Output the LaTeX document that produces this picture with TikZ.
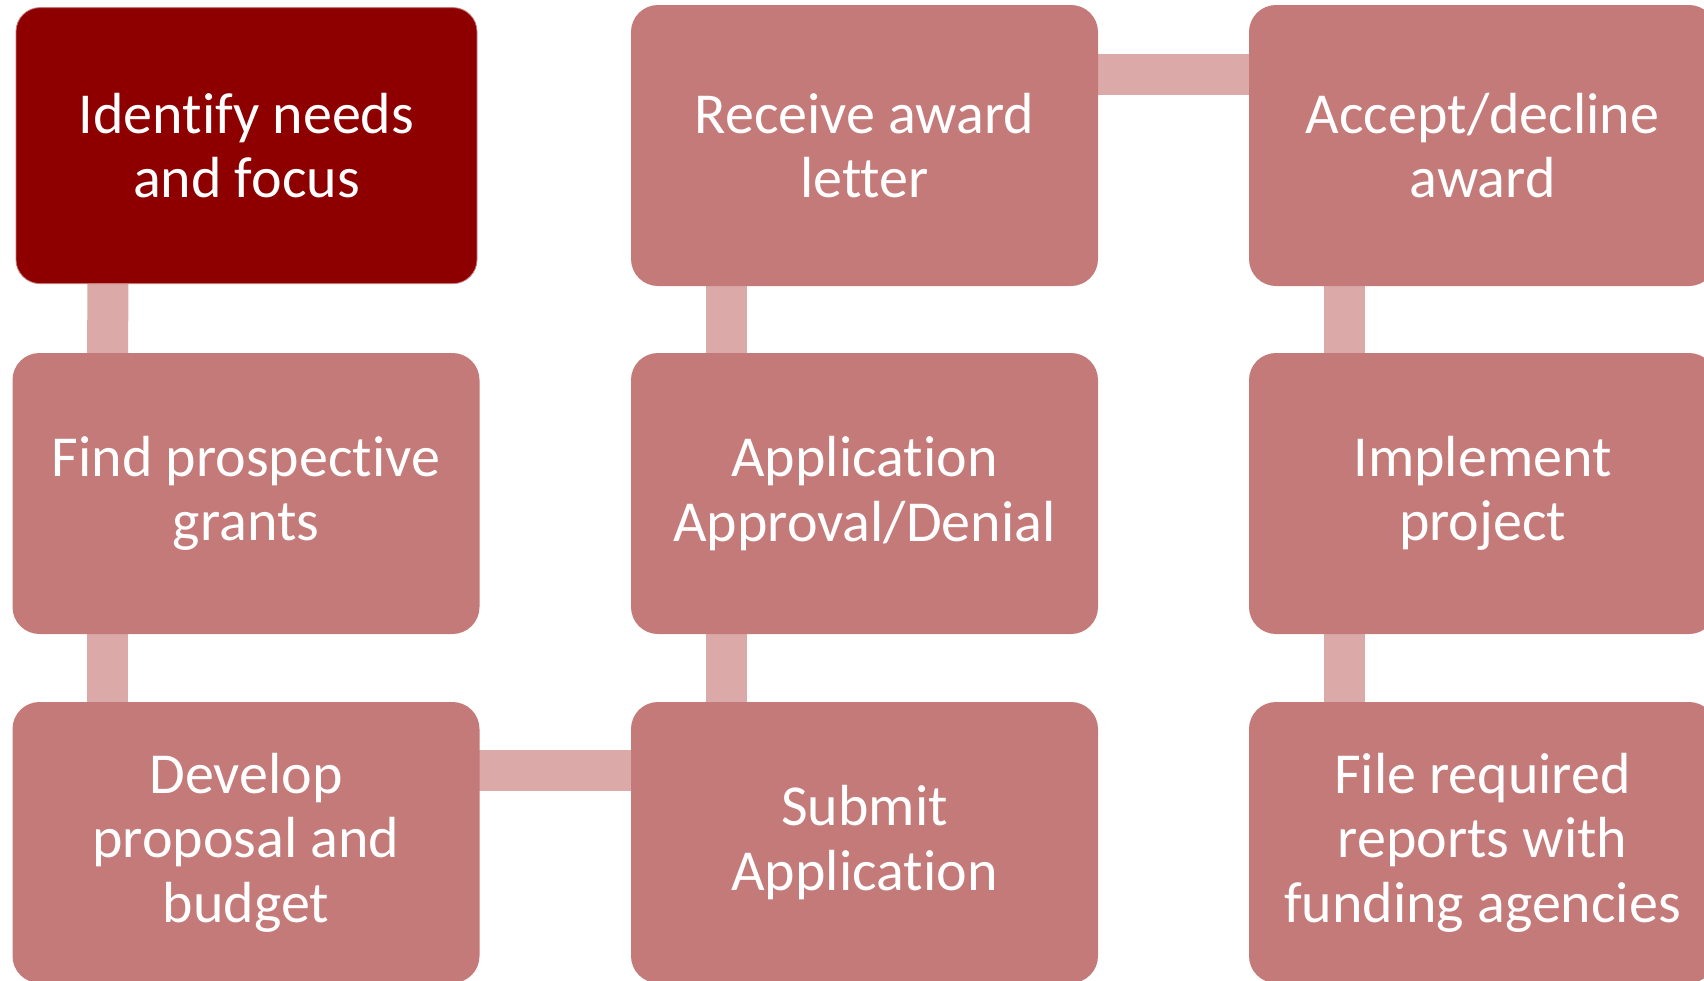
\documentclass[tikz,border=0pt]{standalone}
\usepackage{fontspec}
\setmainfont{Carlito}[Ligatures=NoCommon]
\usetikzlibrary{calc,backgrounds}
\definecolor{boxdark}{HTML}{8E0000}
\definecolor{boxmain}{HTML}{C47A79}
\definecolor{connc}{HTML}{DCA9A9}
\tikzset{
  stepbox/.style={rectangle, rounded corners=27pt, fill=boxmain, draw=none,
    minimum width=467pt, minimum height=281pt, inner sep=0pt, outer sep=0pt,
    text=white, align=center,
    font=\fontsize{58}{64.5}\selectfont},
  firstbox/.style={stepbox, fill=boxdark, draw=boxmain, line width=0.8pt,
    minimum width=461pt, minimum height=276pt, rounded corners=24pt},
  conn/.style={draw=connc, line width=41pt}
}
\begin{document}
\begin{tikzpicture}[x=1pt,y=-1pt]
\useasboundingbox (0,0) rectangle (1704,980);
\clip (0,0) rectangle (1704,980);
% nodes
\node[firstbox] (id) at (246.5,145.6) {Identify needs\\and focus};
\node[stepbox] (find) at (246,493.5) {Find prospective\\grants};
\node[stepbox] (dev) at (246,842.5) {Develop\\proposal and\\budget};
\node[stepbox] (recv) at (864.5,145.5) {Receive award\\letter};
\node[stepbox] (appr) at (864.5,493.5) {Application\\Approval/Denial};
\node[stepbox] (sub) at (864.5,842.5) {Submit\\Application};
\node[stepbox] (acc) at (1482.5,145.5) {Accept/decline\\award};
\node[stepbox] (impl) at (1482.5,493.5) {Implement\\project};
\node[stepbox] (file) at (1482.5,842.5) {File required\\reports with\\funding agencies};
% connectors (behind boxes)
\begin{pgfonlayer}{background}
\fill[white] (0,0) rectangle (1704,980);
\draw[conn] ($(id.center)+(-138.5,0)$) -- ($(find.center)+(-138.5,0)$);
\draw[conn] ($(find.center)+(-138.5,0)$) -- ($(dev.center)+(-138.5,0)$);
\draw[conn] ($(dev.center)+(0,-72)$) -- ($(sub.center)+(0,-72)$);
\draw[conn] ($(sub.center)+(-138.5,0)$) -- ($(appr.center)+(-138.5,0)$);
\draw[conn] ($(appr.center)+(-138.5,0)$) -- ($(recv.center)+(-138.5,0)$);
\draw[conn] ($(recv.center)+(0,-71)$) -- ($(acc.center)+(0,-71)$);
\draw[conn] ($(acc.center)+(-138.5,0)$) -- ($(impl.center)+(-138.5,0)$);
\draw[conn] ($(impl.center)+(-138.5,0)$) -- ($(file.center)+(-138.5,0)$);
\end{pgfonlayer}
\end{tikzpicture}
\end{document}
